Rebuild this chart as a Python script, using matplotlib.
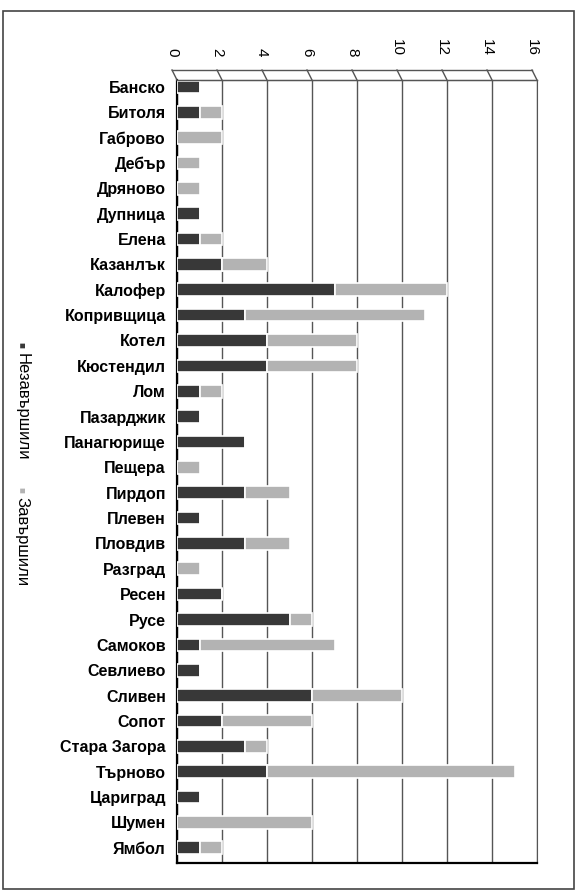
import matplotlib.pyplot as plt
from matplotlib.patches import Rectangle
from matplotlib.lines import Line2D
from matplotlib.transforms import ScaledTranslation
import numpy as np

plt.rcParams['font.family'] = ['Liberation Sans', 'DejaVu Sans']

# data
towns = ['Банско', 'Битоля', 'Габрово', 'Дебър', 'Дряново', 'Дупница', 'Елена',
         'Казанлък', 'Калофер', 'Копривщица', 'Котел', 'Кюстендил', 'Лом',
         'Пазарджик', 'Панагюрище', 'Пещера', 'Пирдоп', 'Плевен', 'Пловдив',
         'Разград', 'Ресен', 'Русе', 'Самоков', 'Севлиево', 'Сливен', 'Сопот',
         'Стара Загора', 'Търново', 'Цариград', 'Шумен', 'Ямбол']
not_finished = [1, 1, 0, 0, 0, 1, 1, 2, 7, 3, 4, 4, 1, 1, 3, 0, 3, 1, 3, 0,
                2, 5, 1, 1, 6, 2, 3, 4, 1, 0, 1]
finished = [0, 1, 2, 1, 1, 0, 1, 2, 5, 8, 4, 4, 1, 0, 0, 1, 2, 0, 2, 1,
            0, 1, 6, 0, 4, 4, 1, 11, 0, 6, 1]
series_names = ['Незавършили', 'Завършили']
ticks = [0, 2, 4, 6, 8, 10, 12, 14, 16]

dark = '#383838'
light = '#b3b3b3'
W, H = 579, 894

fig = plt.figure(figsize=(W / 100, H / 100), dpi=100)
ax = fig.add_axes([177 / W, 1 - 863 / H, 360 / W, (863 - 80) / H])

y = np.arange(len(towns))
nf = np.array(not_finished)
fi = np.array(finished)
ax.barh(y, nf, height=0.5, color=dark, edgecolor='white', linewidth=1.2, zorder=3)
ax.barh(y, fi, left=nf, height=0.5, color=light, edgecolor='white', linewidth=1.2, zorder=3)

ax.set_xlim(0, 16)
ax.set_ylim(len(towns) - 0.4, -0.27)
ax.set_xticks(ticks)
ax.xaxis.tick_top()
ax.set_xticklabels([str(t) for t in ticks], rotation=-90, fontsize=11)
ax.tick_params(axis='x', length=0, pad=17)
shift = ScaledTranslation(-5 / 100, 0, fig.dpi_scale_trans)
for lab in ax.get_xticklabels():
    lab.set_transform(lab.get_transform() + shift)
ax.set_yticks(y)
ax.set_yticklabels(towns, fontsize=11.5, fontweight='bold')
ax.tick_params(axis='y', length=0, pad=8)
ax.grid(axis='x', color='#555555', linewidth=1.0, zorder=0)
for s in ['top', 'right']:
    ax.spines[s].set_color('#555555')
ax.spines['left'].set_linewidth(1.6)
ax.spines['bottom'].set_linewidth(1.6)

# 3d-like top band of the back wall
x0, x1, top = 177, 537, 80
band = [((172, x1 - 5), (H - 70, H - 70)), ((x0, x1), (H - top, H - top))]
for t in ticks:
    gx = x0 + (x1 - x0) * t / 16
    band.append(((gx - 5, gx), (H - 70, H - top)))
for xs, ys in band:
    fig.add_artist(Line2D([v / W for v in xs], [v / H for v in ys],
                          transform=fig.transFigure, color='#555555', linewidth=1.0))

# rotated legend on the left
fig.text(0.038, 1 - 345 / H, '■', color=dark, fontsize=7, rotation=-90, ha='center', va='center')
fig.text(0.038, 1 - 353 / H, series_names[0], fontsize=12, rotation=-90, ha='center', va='top')
fig.text(0.038, 1 - 490 / H, '■', color=light, fontsize=7, rotation=-90, ha='center', va='center')
fig.text(0.038, 1 - 497 / H, series_names[1], fontsize=12, rotation=-90, ha='center', va='top')

# outer frame
fig.patches.append(Rectangle((0.006, 0.006), 0.986, 0.982, transform=fig.transFigure,
                             fill=False, edgecolor='#444444', linewidth=1.2))

plt.savefig('out.png', dpi=100)
